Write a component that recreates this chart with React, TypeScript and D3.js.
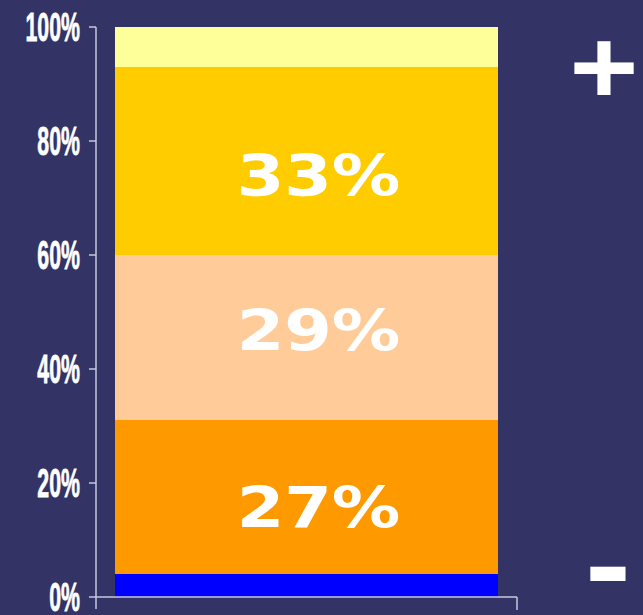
import React from "react";
import * as d3 from "d3";

const segments = ["s1", "s2", "s3", "s4", "s5"];
const values = [4, 27, 29, 33, 7];
const colors = ["#0000FF", "#FF9900", "#FFCC99", "#FFCC00", "#FFFF99"];
const showLabel = [false, true, true, true, false];
const yTicks = [0, 20, 40, 60, 80, 100];
const category = ["bar"];
const plusText = "+";
const minusText = "-";

const W = 643;
const H = 615;
const BG = "#333366";
const AXIS = "#c8c8dc";

export default function App() {
  const y = d3.scaleLinear().domain([0, 100]).range([597, 27]);
  const x = d3.scaleBand().domain(category).range([96, 517]).paddingOuter(0.05).paddingInner(0);
  const stack = d3.stack<any>().keys(segments)([
    Object.fromEntries(segments.map((k, i) => [k, values[i]])),
  ]);
  const bx = x("bar")!;
  const bw = x.bandwidth();
  const cx = bx + bw / 2 + 12;
  const labelShift = [0, 10, -8, 14, 0];

  return (
    <svg width={W} height={H} style={{ position: "fixed", left: 0, top: 0 }}>
      <rect x={0} y={0} width={W} height={H} fill={BG} />
      {stack.map((s, i) => {
        const d = s[0];
        return (
          <rect
            key={segments[i]}
            x={Math.round(bx)}
            y={Math.round(y(d[1]))}
            width={Math.round(bw)}
            height={Math.round(y(d[0])) - Math.round(y(d[1]))}
            fill={colors[i]}
            shapeRendering="crispEdges"
          />
        );
      })}
      {stack.map((s, i) => {
        if (!showLabel[i]) return null;
        const d = s[0];
        const my = (y(d[0]) + y(d[1])) / 2 + labelShift[i];
        return (
          <text
            key={"l" + i}
            transform={`translate(${cx},${my + 21}) scale(1.2,1)`}
            textAnchor="middle"
            fontFamily="DejaVu Sans"
            fontWeight="bold"
            fontSize={57}
            fill="#ffffff"
          >
            {values[i]}%
          </text>
        );
      })}
      {/* y axis */}
      <line x1={96} x2={96} y1={y(100)} y2={609} stroke={AXIS} strokeWidth={1.5} />
      {yTicks.map((t) => (
        <g key={t}>
          <line x1={89} x2={96} y1={y(t)} y2={y(t)} stroke={AXIS} strokeWidth={1.5} />
          <text
            transform={`translate(80,${y(t) + 14}) scale(0.52,1)`}
            textAnchor="end"
            fontFamily="Liberation Sans, Arial, sans-serif"
            fontWeight="bold"
            fontSize={41}
            fill="#ffffff"
            stroke="#ffffff"
            strokeWidth={0.8}
          >
            {t}%
          </text>
        </g>
      ))}
      {/* x axis */}
      <line x1={96} x2={517} y1={y(0)} y2={y(0)} stroke={AXIS} strokeWidth={1.5} />
      <line x1={517} x2={517} y1={y(0)} y2={610} stroke={AXIS} strokeWidth={1.5} />
      <text
        transform={`translate(604,103) scale(1,0.89)`}
        textAnchor="middle"
        fontFamily="Liberation Sans, Arial, sans-serif"
        fontWeight="bold"
        fontSize={118}
        fill="#ffffff"
      >
        {plusText}
      </text>
      <text
        transform={`translate(608,605) scale(1.17,1)`}
        textAnchor="middle"
        fontFamily="Liberation Sans, Arial, sans-serif"
        fontWeight="bold"
        fontSize={118}
        fill="#ffffff"
      >
        {minusText}
      </text>
    </svg>
  );
}
